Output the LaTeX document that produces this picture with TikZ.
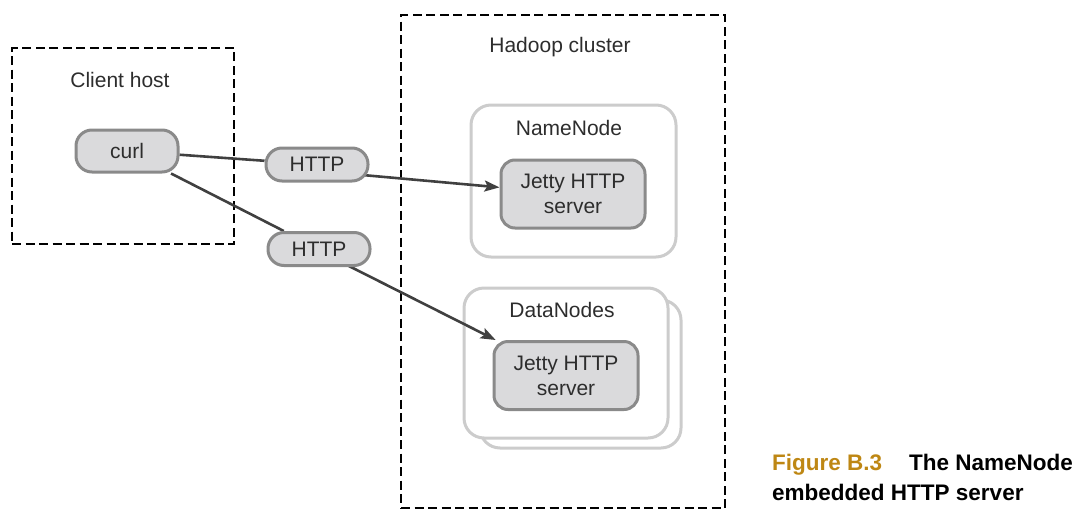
\documentclass[tikz,border=0pt]{standalone}
\usepackage{fontspec}
\setmainfont{Liberation Sans}
\usetikzlibrary{arrows.meta,calc}
\pgfdeclarelayer{boxes}
\pgfdeclarelayer{connectors}
\pgfsetlayers{boxes,connectors,main}
\definecolor{pillfill}{RGB}{218,218,220}
\definecolor{pillline}{RGB}{138,138,138}
\definecolor{lightline}{RGB}{204,204,204}
\definecolor{txt}{RGB}{45,45,45}
\definecolor{conn}{RGB}{64,64,64}
\definecolor{gold}{RGB}{190,135,20}
\tikzset{
  pill/.style={draw=pillline, fill=pillfill, line width=3pt, rounded corners=16pt,
    inner sep=0pt, text=txt, font=\fontsize{21}{25}\selectfont},
  server/.style={pill, rounded corners=14pt, minimum width=144pt, minimum height=68pt, align=center},
  hostbox/.style={draw=black, line width=1.8pt, dash pattern=on 9pt off 4.5pt, inner sep=0pt},
  nodebox/.style={draw=lightline, fill=white, line width=3pt, rounded corners=20pt, inner sep=0pt},
  lbl/.style={text=txt, font=\fontsize{21}{25}\selectfont, inner sep=0pt},
  conline/.style={draw=conn, line width=2.6pt},
  arr/.style={conline, -{Stealth[length=15pt,width=11pt,inset=3pt]}},
  captxt/.style={font=\bfseries\fontsize{22.5}{30}\selectfont, inner sep=0pt, anchor=base west}
}
\begin{document}
\begin{tikzpicture}[x=1pt,y=-1pt]
\useasboundingbox (0,0) rectangle (1083,525);
\begin{pgfonlayer}{boxes}
% host boxes
\node[hostbox, minimum width=222pt, minimum height=196pt] (client) at (123,146) {};
\node[hostbox, minimum width=324pt, minimum height=493pt] (cluster) at (563,261.5) {};
% NameNode
\node[nodebox, minimum width=205pt, minimum height=152pt] (nn) at (573.5,181) {};
% DataNodes
\node[nodebox, minimum width=201pt, minimum height=148pt] (dnback) at (580.5,374) {};
\node[nodebox, minimum width=204pt, minimum height=150pt] (dn) at (566,363) {};
\end{pgfonlayer}
\node[lbl] (clientlbl) at (120,80) {Client host};
\node[lbl] (clusterlbl) at (560,47) {Hadoop cluster};
\node[lbl] (nnlbl) at (569,128) {NameNode};
\node[lbl] (dnlbl) at (562,310) {DataNodes};
% pills
\node[pill, minimum width=102pt, minimum height=42pt] (curl) at (127,151) {curl};
\node[pill, minimum width=102pt, minimum height=33pt] (http1) at (317,164.5) {HTTP};
\node[pill, minimum width=102pt, minimum height=33pt] (http2) at (319,249) {HTTP};
\node[server] (jetty1) at (573,194) {Jetty HTTP\\server};
\node[server] (jetty2) at (566,375.5) {Jetty HTTP\\server};
% connectors
\coordinate (h1out) at ($(http1.center)+(40,10)$);
\coordinate (h2out) at ($(http2.center)+(20,12)$);
\begin{pgfonlayer}{connectors}
\draw[conline] (curl) -- (http1);
\draw[conline] (curl) -- (http2);
\draw[arr] (h1out) -- (jetty1);
\draw[arr] (h2out) -- (jetty2);
\end{pgfonlayer}
% caption
\node[captxt, text=gold] (figno) at (772,470) {Figure B.3};
\node[captxt] (figtitle) at (909,470) {The NameNode};
\node[captxt] (figtitle2) at (772,500) {embedded HTTP server};
\end{tikzpicture}
\end{document}
